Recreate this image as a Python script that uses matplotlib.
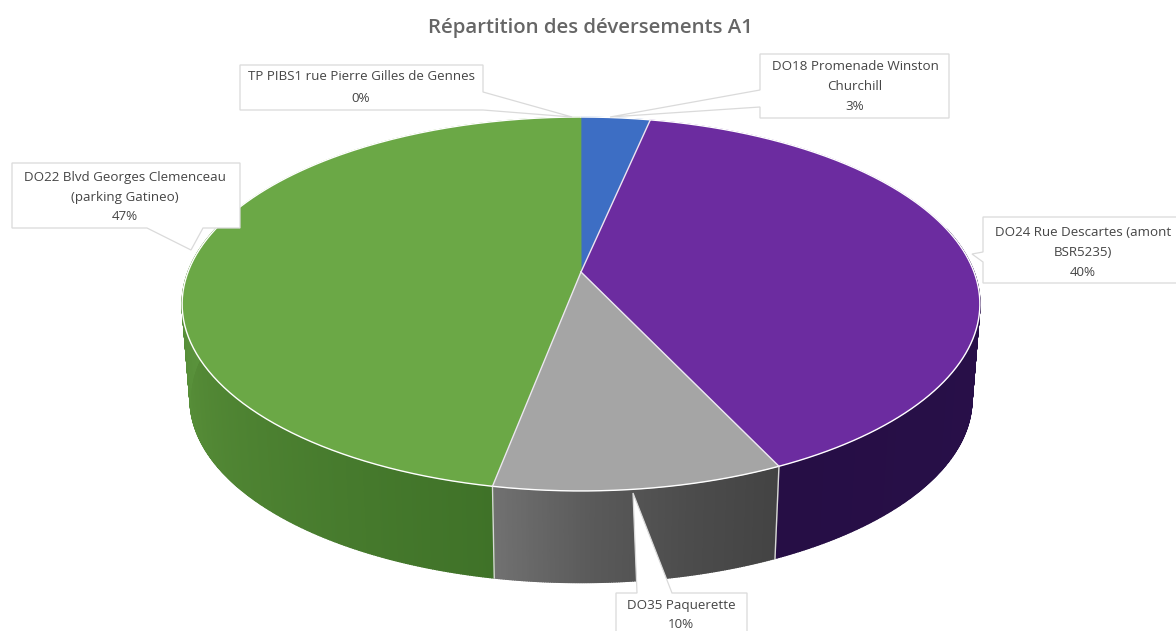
import numpy as np
import matplotlib
matplotlib.use("Agg")
import matplotlib.pyplot as plt
from matplotlib.colors import to_rgb
from matplotlib.patches import Polygon

title = "Répartition des déversements A1"
# clockwise from 12 o'clock
names = ["DO18", "DO24", "DO35", "DO22", "TP"]
shares = [3.3, 39.7, 10.0, 46.96, 0.04]
top_colors = ["#3D6EC4", "#6C2CA0", "#A5A5A5", "#6BA846", "#6BA846"]
side_stops = {
    "DO18": ["#2A4D8A", "#2A4D8A"],
    "DO24": ["#2C1250", "#260E45"],
    "DO35": ["#717171", "#5A5A5A", "#4C4C4C", "#434343"],
    "DO22": ["#5C9440", "#609C42", "#548A36", "#3F7228"],
    "TP": ["#5C9440", "#5C9440"],
}
flip_gradient = ["DO22", "DO35"]

fig = plt.figure(figsize=(11.76, 6.31), dpi=100)
ax = fig.add_axes([0, 0, 1, 1])
ax.set_xlim(0, 1176)
ax.set_ylim(631, 0)
ax.axis("off")

CX, CY, R, B, K = 581, 272, 393, 181.5, 0.171
DEPTH, SCALE = 96, 0.98


def project(theta, bottom=False):
    u, v = np.sin(theta), np.cos(theta)
    den = 1 + K * v
    x, y = R * u / den, -B * v / den
    if bottom:
        return CX + SCALE * x, CY + DEPTH + SCALE * y
    return CX + x, CY + y


edges = np.concatenate([[0], np.cumsum(shares)]) / np.sum(shares) * 2 * np.pi

# side wall, built from thin strips
for i, name in enumerate(names):
    n = max(int((edges[i + 1] - edges[i]) * 200), 2)
    th = np.linspace(edges[i], edges[i + 1], n + 1)
    stops = np.array([to_rgb(c) for c in side_stops[name]])
    pos = np.linspace(0, 1, len(stops))
    for a, b in zip(th[:-1], th[1:]):
        if np.cos((a + b) / 2) > 0.25:
            continue
        t = ((a + b) / 2 - edges[i]) / (edges[i + 1] - edges[i])
        if name in flip_gradient:
            t = 1 - t
        col = [np.interp(t, pos, stops[:, c]) for c in range(3)]
        xa, ya = project(a)
        xb, yb = project(b)
        xc, yc = project(b, True)
        xd, yd = project(a, True)
        ax.add_patch(Polygon([(xa, ya), (xb, yb), (xc, yc), (xd, yd)],
                             closed=True, fc=col, ec=col, lw=1.0, zorder=1))

# pale seams between side walls
for e in edges[1:-1]:
    if np.pi / 2 < e < 3 * np.pi / 2:
        xa, ya = project(e)
        xb, yb = project(e, True)
        ax.plot([xa, xb], [ya, yb], color="#D8D8D8", lw=1, zorder=2)

# top face
for i, name in enumerate(names):
    th = np.linspace(edges[i], edges[i + 1], 200)
    xs, ys = project(th)
    pts = np.column_stack([np.r_[CX, xs], np.r_[CY, ys]])
    ax.add_patch(Polygon(pts, closed=True, fc=top_colors[i], ec=top_colors[i], lw=0.5, zorder=3))
    if name not in ("TP",):
        ax.plot(xs, ys, color="white", lw=1.0, zorder=4)
for e in edges[1:4]:
    xa, ya = project(e)
    ax.plot([CX, xa], [CY, ya], color="#EDE6F2", lw=1.0, zorder=4)

# callouts: box + pointer, with their text
callouts = [
    ([(240, 65), (483, 65), (483, 92), (572, 117), (483, 110), (240, 110)],
     [("TP PIBS1 rue Pierre Gilles de Gennes", 361, 76), ("0%", 361, 98)]),
    ([(760, 54), (949, 54), (949, 118), (760, 118), (760, 107), (610, 117), (760, 90)],
     [("DO18 Promenade Winston", 855, 66), ("Churchill", 855, 87), ("3%", 855, 107)]),
    ([(983, 217), (1180, 217), (1180, 283), (983, 283), (983, 262), (972, 254), (983, 252)],
     [("DO24 Rue Descartes (amont", 1083, 232), ("BSR5235)", 1083, 252), ("40%", 1083, 273)]),
    ([(12, 163), (240, 163), (240, 228), (203, 228), (191, 250), (147, 228), (12, 228)],
     [("DO22 Blvd Georges Clemenceau", 125, 177), ("(parking Gatineo)", 125, 197), ("47%", 125, 216)]),
    ([(616, 593), (637, 593), (633, 493), (672, 593), (747, 593), (747, 640), (616, 640)],
     [("DO35 Paquerette", 681, 605), ("10%", 681, 624)]),
]
for outline, lines in callouts:
    ax.add_patch(Polygon(outline, closed=True, fc="white", ec="#DADADA", lw=0.9, zorder=5))
    for txt, x, y in lines:
        ax.text(x, y, txt, ha="center", va="center", fontsize=9.6, family="Open Sans",
                color="#454545", zorder=6, clip_on=False)

ax.text(590, 28, title, ha="center", va="center", fontsize=14.7, family="Open Sans",
        weight="semibold", color="#666666", zorder=6)

fig.savefig("out.png", dpi=100, facecolor="white")
